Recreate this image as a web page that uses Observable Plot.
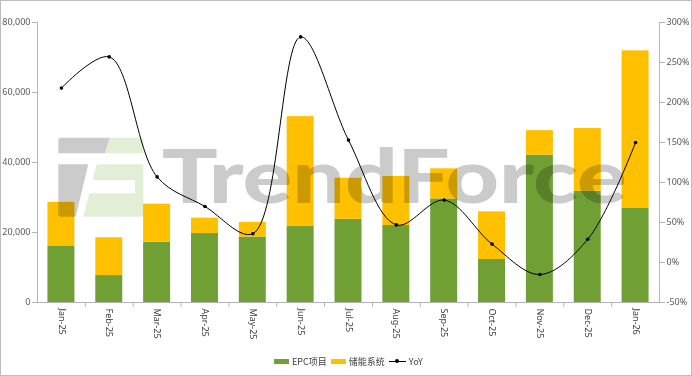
<!DOCTYPE html>
<html>
<head>
<meta charset="utf-8">
<script src="https://cdn.jsdelivr.net/npm/d3@7"></script>
<script src="https://cdn.jsdelivr.net/npm/@observablehq/plot@0.6"></script>
<style>
  html, body { margin: 0; padding: 0; background: #fff; }
  #wrap { position: relative; width: 692px; height: 376px; overflow: hidden; background: #fff; }
  #chart { position: absolute; left: 0; top: 0; }
  #border { position: absolute; left: 0; top: 0; width: 692px; height: 376px; box-sizing: border-box; border: 1px solid #bdbdbd; pointer-events: none; }
  #legend { position: absolute; left: 274px; top: 354px; height: 14px; display: flex; align-items: center;
            font: 9px "Noto Sans CJK SC", "Noto Sans", sans-serif; color: #404040; white-space: nowrap; }
  .sw { display: inline-block; width: 15px; height: 5px; margin-right: 3px; }
  .item { display: inline-flex; align-items: center; margin-right: 4px; }
  .ln { position: relative; display: inline-block; width: 17px; height: 1px; background: #000; margin-right: 3px; }
  .ln::after { content: ""; position: absolute; left: 6.5px; top: -2px; width: 4px; height: 4px; border-radius: 50%; background: #000; }
</style>
</head>
<body>
<div id="wrap">
  <div id="chart"></div>
  <div id="legend"></div>
  <div id="border"></div>
</div>
<script>
// ---- data ----
const months = ["Jan-25","Feb-25","Mar-25","Apr-25","May-25","Jun-25","Jul-25","Aug-25","Sep-25","Oct-25","Nov-25","Dec-25","Jan-26"];
const seriesNames = ["EPC项目", "储能系统"];
const epcValues = [16000, 7700, 17200, 19700, 18700, 21700, 23800, 22000, 29600, 12300, 42100, 31800, 27000];
const storageValues = [12600, 10800, 10900, 4400, 4200, 31400, 11700, 14000, 8600, 13600, 7000, 17900, 44900];
const yoyValues = [218, 257, 107, 70, 36, 282, 153, 47, 78, 23, -15, 29, 150];
const leftTicks = [0, 20000, 40000, 60000, 80000];
const rightTicks = [-50, 0, 50, 100, 150, 200, 250, 300];
const yoyLabel = "YoY";

// ---- styles ----
const green = "#70A033", yellow = "#FFC000";
const axisGray = "#b5b5b5", labelColor = "#595959";
const W = 692, H = 350;
const mL = 37, mR = 33, mT = 22, mB = 48;
const leftMax = 80000, rMin = -50, rMax = 300;
const toLeft = p => (p - rMin) / (rMax - rMin) * leftMax;
const fromLeft = v => Math.round(v / leftMax * (rMax - rMin) + rMin);

const stackData = [];
months.forEach((m, i) => {
  stackData.push({month: m, series: seriesNames[0], value: epcValues[i]});
  stackData.push({month: m, series: seriesNames[1], value: storageValues[i]});
});
const yoyData = months.map((m, i) => ({month: m, yoy: yoyValues[i]}));

const step = (W - mL - mR) / months.length;

const chart = Plot.plot({
  width: W, height: H,
  marginLeft: mL, marginRight: mR, marginTop: mT, marginBottom: mB,
  style: {fontFamily: "'Noto Sans', sans-serif", fontSize: "9px", color: labelColor, background: "transparent"},
  x: {domain: months, paddingInner: 0.436, paddingOuter: 0.218, align: 0.5, round: false, label: null},
  y: {domain: [0, leftMax], label: null},
  color: {domain: seriesNames, range: [green, yellow]},
  marks: [
    Plot.barY(stackData, {x: "month", y: "value", fill: "series"}),
    Plot.line(yoyData, {x: "month", y: d => toLeft(d.yoy), curve: "catmull-rom", stroke: "#000", strokeWidth: 1}),
    Plot.dot(yoyData, {x: "month", y: d => toLeft(d.yoy), r: 1.8, fill: "#000"}),
    Plot.frame({anchor: "left", stroke: axisGray}),
    Plot.frame({anchor: "right", stroke: axisGray}),
    Plot.frame({anchor: "bottom", stroke: axisGray}),
    Plot.axisY({ticks: leftTicks, anchor: "left", tickSize: 5, tickPadding: 2, stroke: axisGray, fill: labelColor,
                tickFormat: d3.format(","), label: null}),
    Plot.axisY({ticks: rightTicks.map(toLeft), anchor: "right", tickSize: 5, tickPadding: 2, stroke: axisGray, fill: labelColor,
                tickFormat: v => fromLeft(v) + "%", label: null}),
    Plot.axisX({ticks: months.slice(1), text: null, tickSize: 5, dx: -step / 2, stroke: axisGray, label: null}),
    Plot.axisX({tickSize: 0, tickPadding: 6, tickRotate: 90, fill: "#404040", label: null})
  ]
});
document.getElementById("chart").appendChild(chart);

// ---- watermark (decoration) ----
const svg = d3.select(chart);
const wm = svg.append("g").style("mix-blend-mode", "multiply").attr("pointer-events", "none");
wm.append("path").attr("fill", "#cbcbcb")
  .attr("d", "M61,137.7 L110,137.7 L105,153.3 L58.3,153.3 L58.3,140.4 Q58.3,137.7 61,137.7 Z");
wm.append("path").attr("fill", "#cbcbcb")
  .attr("d", "M58.3,164.3 L88.3,164.3 L75.7,216.7 L61,216.7 Q58.3,216.7 58.3,214 Z");
wm.append("path").attr("fill", "#e2efd6")
  .attr("d", "M110,137.7 L140.3,137.7 Q143.3,137.7 143.3,140.7 L143.3,153.3 L105,153.3 Z");
wm.append("path").attr("fill", "#e2efd6")
  .attr("d", "M96.7,164.3 L143.3,164.3 L143.3,213.7 Q143.3,216.7 140.3,216.7 L83.3,216.7 L89.3,193.3 L135,193.3 L135,180 L92.7,180 Z");
wm.append("text").text("TrendForce")
  .attr("x", 161.7).attr("y", 203.3)
  .attr("text-anchor", "start")
  .attr("fill", "#cbcbcb")
  .attr("font-family", "Lato, 'Open Sans', sans-serif").attr("font-weight", 900).attr("font-size", 75)
  .attr("textLength", 465).attr("lengthAdjust", "spacingAndGlyphs");

// ---- legend ----
const legend = document.getElementById("legend");
legend.innerHTML =
  `<span class="item"><span class="sw" style="background:${green}"></span>${seriesNames[0]}</span>` +
  `<span class="item"><span class="sw" style="background:${yellow}"></span>${seriesNames[1]}</span>` +
  `<span class="item"><span class="ln"></span>${yoyLabel}</span>`;
</script>
</body>
</html>
